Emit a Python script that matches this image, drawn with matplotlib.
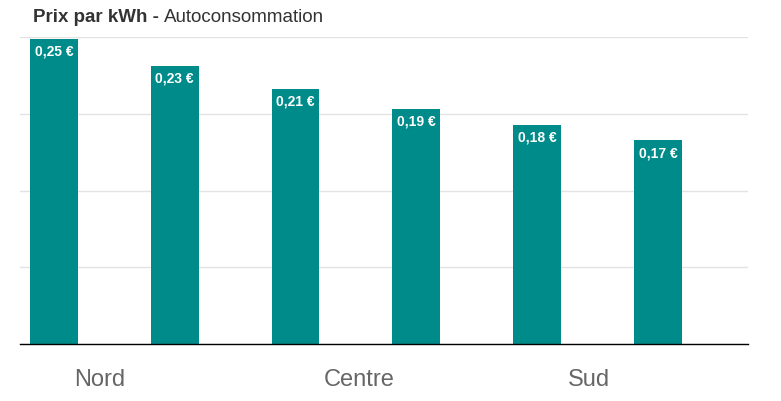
import matplotlib.pyplot as plt

# data
prices = [0.249, 0.227, 0.208, 0.1915, 0.1785, 0.166]
price_labels = ["0,25 €", "0,23 €", "0,21 €", "0,19 €", "0,18 €", "0,17 €"]
regions = ["Nord", "Centre", "Sud"]
region_pos = [0.38, 2.53, 4.43]

plt.rcParams['font.family'] = ['Liberation Sans', 'DejaVu Sans']

fig = plt.figure(figsize=(7.81, 4.02), dpi=100)
ax = fig.add_axes([20 / 781, 57 / 402, 728 / 781, 306.7 / 402])

x = list(range(len(prices)))
bars = ax.bar(x, prices, width=0.397, color='#008b8b', zorder=3)

for b, lab in zip(bars, price_labels):
    ax.annotate(lab, (b.get_x() + b.get_width() / 2, b.get_height()),
                xytext=(0, -8.5), textcoords='offset points', ha='center', va='center',
                color='white', fontsize=10, fontweight='bold', zorder=4)

ax.set_xlim(-0.28, 5.745)
ax.set_ylim(0, 0.25)
ax.set_yticks([0, 0.0625, 0.125, 0.1875, 0.25])
ax.set_yticklabels([])
ax.tick_params(axis='y', length=0)
ax.grid(axis='y', color='#e3e3e3', linewidth=1, zorder=0)

ax.set_xticks(region_pos)
ax.set_xticklabels(regions, fontsize=17, color='#666666')
ax.tick_params(axis='x', length=0, pad=17)

for s in ['top', 'right', 'left']:
    ax.spines[s].set_visible(False)
ax.spines['bottom'].set_color('black')
ax.spines['bottom'].set_linewidth(1)
ax.spines['bottom'].set_zorder(5)

# title: bold part then regular part right after it
bold = fig.text(33 / 781, 1 - 18 / 402, "Prix par kWh - ", fontsize=13.5, fontweight='bold',
                color='#333333', va='center', ha='left')
fig.canvas.draw()
bb = bold.get_window_extent()
fig.text(bb.x1 / fig.bbox.width, 1 - 18 / 402, "Autoconsommation", fontsize=13.5,
         color='#333333', va='center', ha='left')

fig.savefig('out.png', dpi=100)
